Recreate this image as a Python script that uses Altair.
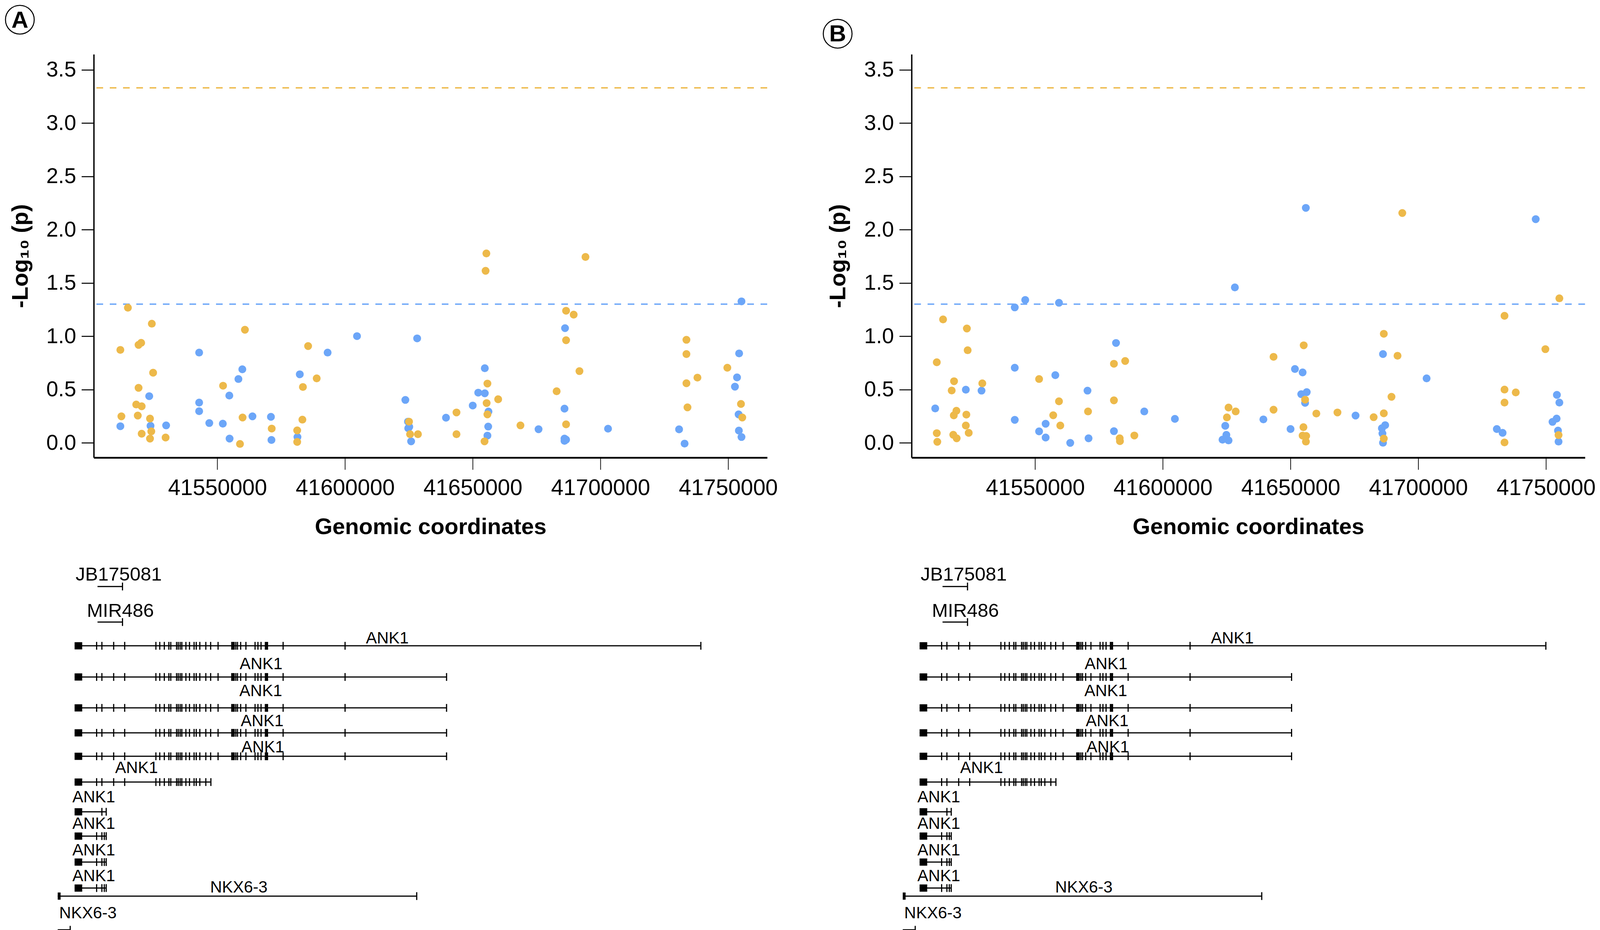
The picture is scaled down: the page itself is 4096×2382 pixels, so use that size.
import altair as alt
import pandas as pd

# ---------------------------------------------------------------- data
X_TICKS = [41550000, 41600000, 41650000, 41700000, 41750000]
Y_TICKS = [0.0, 0.5, 1.0, 1.5, 2.0, 2.5, 3.0, 3.5]
X_DOMAIN = [41501600, 41765300]
Y_DOMAIN = [-0.138, 3.645]

THRESH_BLUE = 1.301
THRESH_ORANGE = 3.33

# Panel A
A_BLUE_X = [41542872, 41604683, 41593176, 41628234, 41559776, 41558248, 41582280,
            41523320, 41554684, 41542872, 41542872, 41563747, 41570977, 41512017,
            41523829, 41529939, 41546843, 41552138, 41554786, 41571181, 41581364,
            41755237, 41686140, 41754313, 41654723, 41753491, 41752670, 41652156,
            41654723, 41623614, 41650000, 41685934, 41656160, 41754108, 41639528,
            41624641, 41624744, 41625154, 41656057, 41675770, 41702978, 41730801,
            41754210, 41655750, 41625873, 41685934, 41686551, 41685934, 41732957,
            41755237]
A_BLUE_Y = [0.847, 1.001, 0.847, 0.980, 0.690, 0.599, 0.643,
            0.438, 0.444, 0.378, 0.297, 0.249, 0.244, 0.156,
            0.160, 0.164, 0.186, 0.180, 0.040, 0.027, 0.055,
            1.327, 1.076, 0.839, 0.700, 0.614, 0.527, 0.471,
            0.465, 0.403, 0.350, 0.321, 0.294, 0.267, 0.236,
            0.199, 0.137, 0.151, 0.153, 0.128, 0.133, 0.127,
            0.115, 0.068, 0.014, 0.040, 0.030, 0.019, -0.007,
            0.055]
A_ORANGE_X = [41514970, 41524338, 41560794, 41512017, 41519145, 41520164, 41585539,
              41524847, 41588899, 41519145, 41552240, 41583502, 41518229, 41520367,
              41512425, 41518840, 41523626, 41559878, 41583298, 41571283, 41581262,
              41520367, 41524135, 41523626, 41529735, 41558859, 41581262,
              41655339, 41655031, 41694148, 41686551, 41689528, 41686551, 41733676,
              41733676, 41749693, 41691787, 41737990, 41655750, 41733676, 41682854,
              41659959, 41655442, 41755032, 41734087, 41655750, 41643635, 41755545,
              41625052, 41686551, 41668686, 41625462, 41628542, 41643635, 41654620]
A_ORANGE_Y = [1.268, 1.118, 1.061, 0.872, 0.919, 0.938, 0.908,
              0.658, 0.605, 0.516, 0.536, 0.524, 0.360, 0.343,
              0.249, 0.256, 0.228, 0.238, 0.218, 0.134, 0.117,
              0.086, 0.108, 0.040, 0.050, -0.010, 0.009,
              1.777, 1.614, 1.744, 1.239, 1.203, 0.963, 0.967,
              0.833, 0.705, 0.673, 0.612, 0.556, 0.559, 0.484,
              0.409, 0.373, 0.365, 0.333, 0.267, 0.285, 0.238,
              0.199, 0.174, 0.164, 0.081, 0.081, 0.081, 0.014]

# Panel B
B_BLUE_X = [41542008, 41546106, 41559324, 41581660, 41542008, 41557889, 41522848,
            41528995, 41570492, 41510860, 41592726, 41604714, 41542008, 41554098,
            41551537, 41580840, 41554098, 41563730, 41570902,
            41655986, 41746000, 41628196, 41686197, 41651719, 41654726, 41703275,
            41654189, 41656337, 41754295, 41755262, 41655693, 41675456, 41754187,
            41752576, 41624436, 41639366, 41650000, 41687056, 41685767, 41730772,
            41733028, 41754725, 41624866, 41623362, 41625725, 41685982, 41686197,
            41754940]
B_BLUE_Y = [1.271, 1.340, 1.314, 0.937, 0.705, 0.635, 0.499,
            0.490, 0.490, 0.323, 0.295, 0.225, 0.216, 0.179,
            0.108, 0.110, 0.050, 0.000, 0.043,
            2.204, 2.098, 1.458, 0.833, 0.693, 0.661, 0.605,
            0.457, 0.476, 0.450, 0.378, 0.375, 0.256, 0.228,
            0.197, 0.160, 0.220, 0.130, 0.166, 0.137, 0.130,
            0.094, 0.115, 0.075, 0.030, 0.023, 0.088, 0.001,
            0.012]
B_ORANGE_X = [41513934, 41523258, 41523565, 41511475, 41580840, 41585246, 41551537,
              41518237, 41529303, 41517315, 41559324, 41580840, 41519159, 41518134,
              41523053, 41570697, 41557070, 41522848, 41559836, 41511475, 41517930,
              41523975, 41519262, 41511680, 41583095, 41583197, 41588833,
              41693758, 41755262, 41733780, 41686519, 41655156, 41749784, 41643341,
              41691890, 41733780, 41738184, 41689527, 41733780, 41655693, 41625725,
              41628518, 41643341, 41660097, 41668367, 41682545, 41686519, 41625081,
              41655048, 41654726, 41656122, 41656015, 41686519, 41733780, 41754940]
B_ORANGE_Y = [1.158, 1.073, 0.869, 0.756, 0.742, 0.768, 0.599,
              0.578, 0.558, 0.491, 0.390, 0.399, 0.301, 0.258,
              0.265, 0.295, 0.259, 0.163, 0.163, 0.091, 0.076,
              0.094, 0.043, 0.010, 0.043, 0.016, 0.069,
              2.156, 1.356, 1.192, 1.023, 0.915, 0.879, 0.807,
              0.817, 0.500, 0.473, 0.432, 0.378, 0.405, 0.331,
              0.295, 0.311, 0.275, 0.285, 0.241, 0.277, 0.239,
              0.147, 0.068, 0.065, 0.012, 0.040, 0.004, 0.073]

# Gene track (transcripts, stacked in lanes)
TX_NAMES = ["JB175081", "MIR486", "ANK1", "ANK1", "ANK1", "ANK1", "ANK1", "ANK1",
            "ANK1", "ANK1", "ANK1", "ANK1", "NKX6-3", "NKX6-3"]
TX_LANE = [0.61, 1.65, 2.344, 3.256, 4.16, 4.89, 5.576, 6.33, 7.20, 7.91, 8.67, 9.43,
           9.665, 10.65]
TX_START = [41519655, 41519655, 41510739, 41510739, 41510739, 41510739, 41510739,
            41510739, 41510739, 41510739, 41510739, 41510739, 41504178, 41504178]
TX_END = [41529370, 41529370, 41754280, 41655392, 41655392, 41655392, 41655392,
          41563743, 41523035, 41523035, 41523035, 41523035, 41643788, 41509036]
BLOCK_END = [None, None, 41513707, 41513707, 41513707, 41513707, 41513707,
             41513707, 41513707, 41513707, 41513707, 41513707, 41505296, None]
LABEL_POS = [41527906, 41528571, 41632370, 41583265, 41583132, 41583664, 41583930,
             41534826, 41518191, 41518191, 41518191, 41518191, 41574615, 41515929]
LABEL_LANE = [0.435, 1.495, 2.27, 3.03, 3.82, 4.69, 5.456, 6.07, 6.92, 7.70, 8.48,
              9.23, 9.56, 10.315]

EXONS_FULL = [41519309, 41521358, 41525936, 41530221, 41542358, 41543861, 41545631,
              41547401, 41548146, 41550395, 41551047, 41551793, 41552445, 41554028,
              41555426, 41557209, 41558047, 41559444, 41561773, 41563650, 41566537,
              41571860, 41572326, 41572792, 41573444, 41574096, 41575321, 41577369,
              41580923, 41582041, 41583252, 41584928, 41585394, 41585767, 41591835,
              41615922]
EXONS_T6 = [41519309, 41521358, 41525936, 41530221, 41542358, 41543861, 41545631,
            41547401, 41548146, 41550395, 41551047, 41551793, 41552445, 41554028,
            41555426, 41557209, 41558047, 41559444, 41561773]
EXONS_T7 = [41521358]
EXONS_SHORT = [41519309, 41521358, 41522290]
TX_EXONS = [[], [], EXONS_FULL, EXONS_FULL, EXONS_FULL, EXONS_FULL, EXONS_FULL,
            EXONS_T6, EXONS_T7, EXONS_SHORT, EXONS_SHORT, EXONS_SHORT, [], []]

# the two gene-track panels were placed with slightly different offsets
G_DOMAIN_A = [41518191, 41780083]
G_DOMAIN_B = [41507612, 41769504]
LANE_DOMAIN = [0, 10.7]

# ---------------------------------------------------------------- style
BLUE = "#6CA6F8"
ORANGE = "#EDB94A"
FONT = "Liberation Sans"

W_PLOT, H_PLOT = 1724, 1033
H_GENE = 937
SP_COL, SP_ROW = 369.6, 276.8


def scatter_panel(bx, by, ox, oy, letter, letter_dy):
    pts = pd.DataFrame({
        "pos": bx + ox,
        "nlp": by + oy,
        "group": ["Group 1"] * len(bx) + ["Group 2"] * len(ox),
    })
    thr = pd.DataFrame({"nlp": [THRESH_BLUE, THRESH_ORANGE],
                        "group": ["Group 1", "Group 2"]})
    color = alt.Color("group:N", scale=alt.Scale(domain=["Group 1", "Group 2"],
                                                 range=[BLUE, ORANGE]), legend=None)
    x = alt.X("pos:Q", scale=alt.Scale(domain=X_DOMAIN, nice=False, zero=False),
              axis=alt.Axis(values=X_TICKS, format="d", title="Genomic coordinates",
                            labelFontSize=57, titleFontSize=58, titleFontWeight="bold",
                            tickSize=30.7, tickWidth=1.8, domainWidth=4.4,
                            labelPadding=20, titlePadding=43, labelFlush=False,
                            labelOverlap=False, labelLimit=1000, grid=False,
                            domainColor="black", tickColor="black", labelColor="black",
                            titleColor="black", labelFont=FONT, titleFont=FONT))
    y = alt.Y("nlp:Q", scale=alt.Scale(domain=Y_DOMAIN, nice=False, zero=False),
              axis=alt.Axis(values=Y_TICKS, format=".1f", title="-Log₁₀ (p)",
                            labelFontSize=55, titleFontSize=58, titleFontWeight="bold",
                            tickSize=31.5, tickWidth=2.6, domainWidth=3.5,
                            labelPadding=14, titlePadding=36, grid=False,
                            labelLimit=1000, titleLimit=2000,
                            domainColor="black", tickColor="black", labelColor="black",
                            titleColor="black", labelFont=FONT, titleFont=FONT))
    rules = alt.Chart(thr).mark_rule(strokeDash=[17, 17], strokeWidth=3.5).encode(
        y=y, color=color)
    dots = alt.Chart(pts).mark_circle(size=406, opacity=1).encode(x=x, y=y, color=color)
    lab = pd.DataFrame({"t": [letter]})
    ring = alt.Chart(lab).mark_point(shape="circle", filled=False, size=5417,
                                     strokeWidth=2.6, color="black", opacity=1).encode(
        x=alt.value(-189.2), y=alt.value(letter_dy))
    txt = alt.Chart(lab).mark_text(fontSize=60, fontWeight="bold", align="center",
                                   baseline="middle", color="black", font=FONT).encode(
        text="t:N", x=alt.value(-189.2), y=alt.value(letter_dy + 2))
    return alt.layer(rules, dots, ring, txt).properties(width=W_PLOT, height=H_PLOT)


def gene_panel(domain):
    tx = pd.DataFrame({"name": TX_NAMES, "lane": TX_LANE, "start": TX_START,
                       "end": TX_END})
    blk = pd.DataFrame([{"lane": l, "start": s, "end": e}
                        for l, s, e in zip(TX_LANE, TX_START, BLOCK_END) if e is not None])
    ex = pd.DataFrame([{"lane": l, "pos": p}
                       for l, exs, end in zip(TX_LANE, TX_EXONS, TX_END)
                       for p in list(exs) + [end]])
    labs = pd.DataFrame({"name": TX_NAMES, "pos": LABEL_POS, "lane": LABEL_LANE})
    gx = alt.Scale(domain=domain, nice=False, zero=False)
    gy = alt.Scale(domain=LANE_DOMAIN, reverse=True, nice=False, zero=False)

    lines = alt.Chart(tx).mark_rule(strokeWidth=3, color="black").encode(
        x=alt.X("start:Q", scale=gx, axis=None), x2="end:Q",
        y=alt.Y("lane:Q", scale=gy, axis=None))
    blocks = alt.Chart(blk).mark_rule(strokeWidth=18.5, color="black").encode(
        x=alt.X("start:Q", scale=gx, axis=None), x2="end:Q",
        y=alt.Y("lane:Q", scale=gy, axis=None))
    exons = alt.Chart(ex).mark_tick(orient="vertical", size=20, thickness=3,
                                    color="black", opacity=1).encode(
        x=alt.X("pos:Q", scale=gx, axis=None), y=alt.Y("lane:Q", scale=gy, axis=None))
    big = labs["name"].isin(["JB175081", "MIR486"])
    lab_big = alt.Chart(labs[big]).mark_text(fontSize=49, align="center",
                                             baseline="alphabetic", color="black",
                                             font=FONT).encode(
        x=alt.X("pos:Q", scale=gx, axis=None), y=alt.Y("lane:Q", scale=gy, axis=None),
        text="name:N")
    lab_small = alt.Chart(labs[~big]).mark_text(fontSize=42, align="center",
                                                baseline="alphabetic", color="black",
                                                font=FONT).encode(
        x=alt.X("pos:Q", scale=gx, axis=None), y=alt.Y("lane:Q", scale=gy, axis=None),
        text="name:N")
    return alt.layer(lines, blocks, exons, lab_big, lab_small).properties(
        width=W_PLOT, height=H_GENE)


panel_a = scatter_panel(A_BLUE_X, A_BLUE_Y, A_ORANGE_X, A_ORANGE_Y, "A", -88.5)
panel_b = scatter_panel(B_BLUE_X, B_BLUE_Y, B_ORANGE_X, B_ORANGE_Y, "B", -52.6)

chart = alt.concat(panel_a, panel_b, gene_panel(G_DOMAIN_A), gene_panel(G_DOMAIN_B),
                   columns=2, spacing={"row": SP_ROW, "column": SP_COL},
                   bounds="flush", align="all").properties(padding=0).configure_view(
    stroke=None)

chart.save("out.html", embed_options={"renderer": "svg", "actions": False})
